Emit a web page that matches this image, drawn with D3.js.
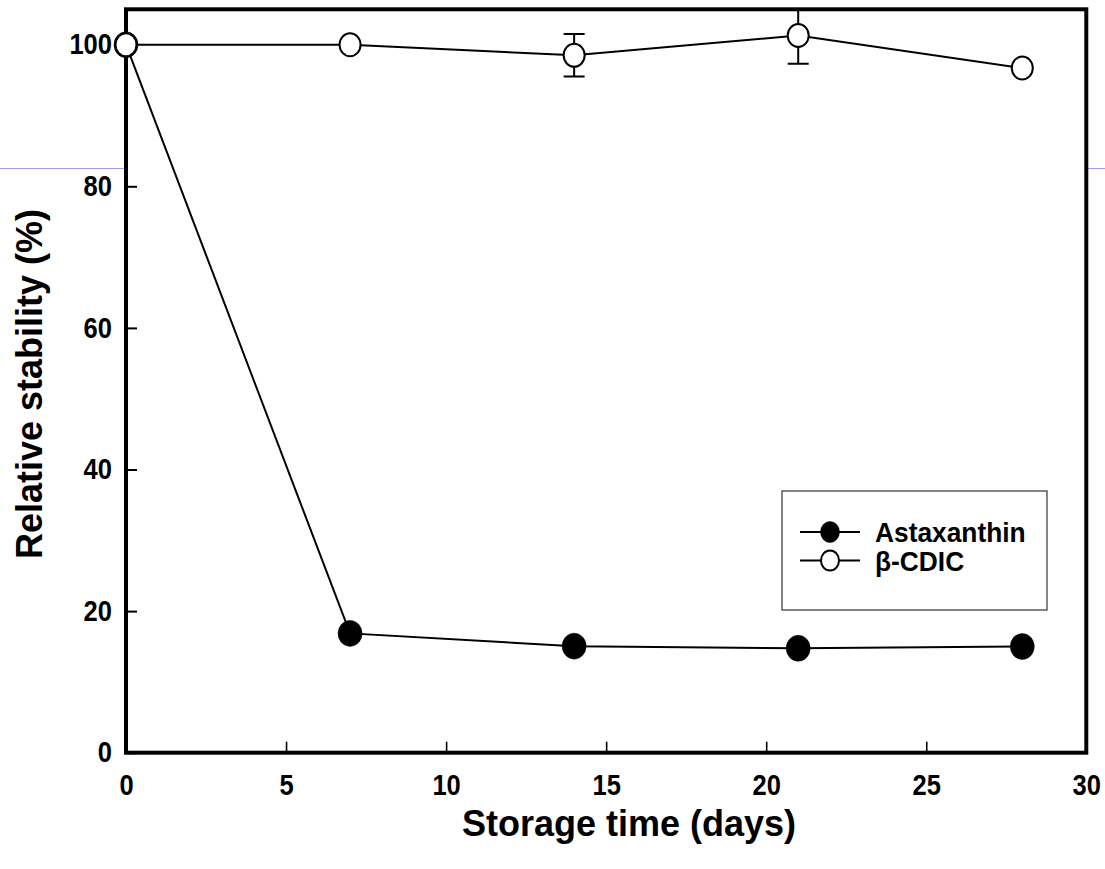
<!DOCTYPE html>
<html>
<head>
<meta charset="utf-8">
<script src="https://cdn.jsdelivr.net/npm/d3@7/dist/d3.min.js"></script>
<style>
  html, body { margin: 0; padding: 0; background: #fff; }
  svg { display: block; }
  text { font-family: "Liberation Sans", Arial, sans-serif; font-weight: bold; fill: #000; }
</style>
</head>
<body>
<svg id="chart" width="1105" height="869"></svg>
<script>
// ---- data ----
const days = [0, 7, 14, 21, 28];
const astaxanthin = [100, 16.85, 15.05, 14.75, 15.0];
const astaxanthinErr = [0, 0, 0, 0, 0];
const cdic = [100, 100, 98.5, 101.3, 96.7];
const cdicErr = [0, 0, 3.0, 4.0, 0];
const seriesNames = ["Astaxanthin", "\u03B2-CDIC"];
const xTicks = [0, 5, 10, 15, 20, 25, 30];
const yTicks = [0, 20, 40, 60, 80, 100];
const xTitle = "Storage time (days)";
const yTitle = "Relative stability (%)";

// ---- layout ----
const W = 1105, H = 869;
const pL = 126, pR = 1086.3, pT = 9.3, pB = 752.7;
const svg = d3.select("#chart");

const x = d3.scaleLinear().domain([0, 30]).range([pL, pR]);
const y = d3.scaleLinear().domain([0, 105]).range([pB, pT]);

function condense(sel, f) {
  sel.each(function () {
    const len = this.getComputedTextLength();
    d3.select(this).attr("textLength", len * f).attr("lengthAdjust", "spacingAndGlyphs");
  });
}

// stray light-blue guide line (behind plot)
svg.append("line").attr("x1", 0).attr("x2", W).attr("y1", 168.5).attr("y2", 168.5)
  .attr("stroke", "#9d9de6").attr("stroke-width", 1);
svg.append("rect").attr("x", pL).attr("y", pT).attr("width", pR - pL).attr("height", pB - pT)
  .attr("fill", "#fff");

// axes
const xAxis = svg.append("g").attr("transform", `translate(0,${pB})`)
  .call(d3.axisBottom(x).tickValues(xTicks).tickSizeInner(-11).tickSizeOuter(0).tickPadding(22).tickFormat(d3.format("d")));
xAxis.select(".domain").remove();
xAxis.selectAll(".tick line").attr("stroke", "#000").attr("stroke-width", 1.6);
xAxis.selectAll(".tick text").attr("font-size", 29).attr("font-family", null).call(condense, 0.88);

const yAxis = svg.append("g").attr("transform", `translate(${pL},0)`)
  .call(d3.axisLeft(y).tickValues(yTicks).tickSizeInner(-11).tickSizeOuter(0).tickPadding(14).tickFormat(d3.format("d")));
yAxis.select(".domain").remove();
yAxis.selectAll(".tick line").attr("stroke", "#000").attr("stroke-width", 2);
yAxis.selectAll(".tick text").attr("font-size", 29).attr("font-family", null).call(condense, 0.88);

// frame
svg.append("rect").attr("x", pL).attr("y", pT).attr("width", pR - pL).attr("height", pB - pT)
  .attr("fill", "none").attr("stroke", "#000").attr("stroke-width", 4);

// clip for error bars
svg.append("clipPath").attr("id", "plotclip").append("rect")
  .attr("x", pL).attr("y", pT).attr("width", pR - pL).attr("height", pB - pT);

const line = d3.line().x(d => x(d[0])).y(d => y(d[1]));

function drawSeries(vals, errs, filled) {
  const pts = days.map((d, i) => [d, vals[i], errs[i]]);
  const g = svg.append("g");
  g.append("path").datum(pts).attr("d", line).attr("fill", "none").attr("stroke", "#000").attr("stroke-width", 2);
  const eb = g.append("g").attr("clip-path", "url(#plotclip)");
  pts.filter(p => p[2] > 0).forEach(p => {
    eb.append("line").attr("x1", x(p[0])).attr("x2", x(p[0])).attr("y1", y(p[1] - p[2])).attr("y2", y(p[1] + p[2]))
      .attr("stroke", "#000").attr("stroke-width", 2);
    [p[1] - p[2], p[1] + p[2]].forEach(v => {
      eb.append("line").attr("x1", x(p[0]) - 10.5).attr("x2", x(p[0]) + 10.5).attr("y1", y(v)).attr("y2", y(v))
        .attr("stroke", "#000").attr("stroke-width", 2);
    });
  });
  g.selectAll("ellipse").data(pts).join("ellipse")
    .attr("cx", d => x(d[0])).attr("cy", d => y(d[1]))
    .attr("rx", filled ? 12 : 10.5).attr("ry", filled ? 13 : 11.5)
    .attr("fill", filled ? "#000" : "#fff").attr("stroke", "#000").attr("stroke-width", filled ? 0.5 : 2);
}
drawSeries(astaxanthin, astaxanthinErr, true);
drawSeries(cdic, cdicErr, false);

// axis titles
svg.append("text").attr("x", 629).attr("y", 836).attr("text-anchor", "middle").attr("font-size", 36).text(xTitle);
svg.append("text").attr("transform", "translate(42,384) rotate(-90)").attr("text-anchor", "middle")
  .attr("font-size", 36).text(yTitle);

// legend
const lg = svg.append("g");
lg.append("rect").attr("x", 782).attr("y", 491).attr("width", 265).attr("height", 119)
  .attr("fill", "#fff").attr("stroke", "#333").attr("stroke-width", 1.2);
[0, 1].forEach(i => {
  const yy = 532 + i * 28.5;
  lg.append("line").attr("x1", 800).attr("x2", 860).attr("y1", yy).attr("y2", yy).attr("stroke", "#000").attr("stroke-width", 2);
  lg.append("ellipse").attr("cx", 830).attr("cy", yy).attr("rx", i === 0 ? 9.5 : 9).attr("ry", i === 0 ? 10.5 : 10)
    .attr("fill", i === 0 ? "#000" : "#fff").attr("stroke", "#000").attr("stroke-width", i === 0 ? 0.5 : 2);
  lg.append("text").attr("x", 875).attr("y", yy + 10).attr("font-size", 28).text(seriesNames[i]).call(condense, 0.94);
});
</script>
</body>
</html>
